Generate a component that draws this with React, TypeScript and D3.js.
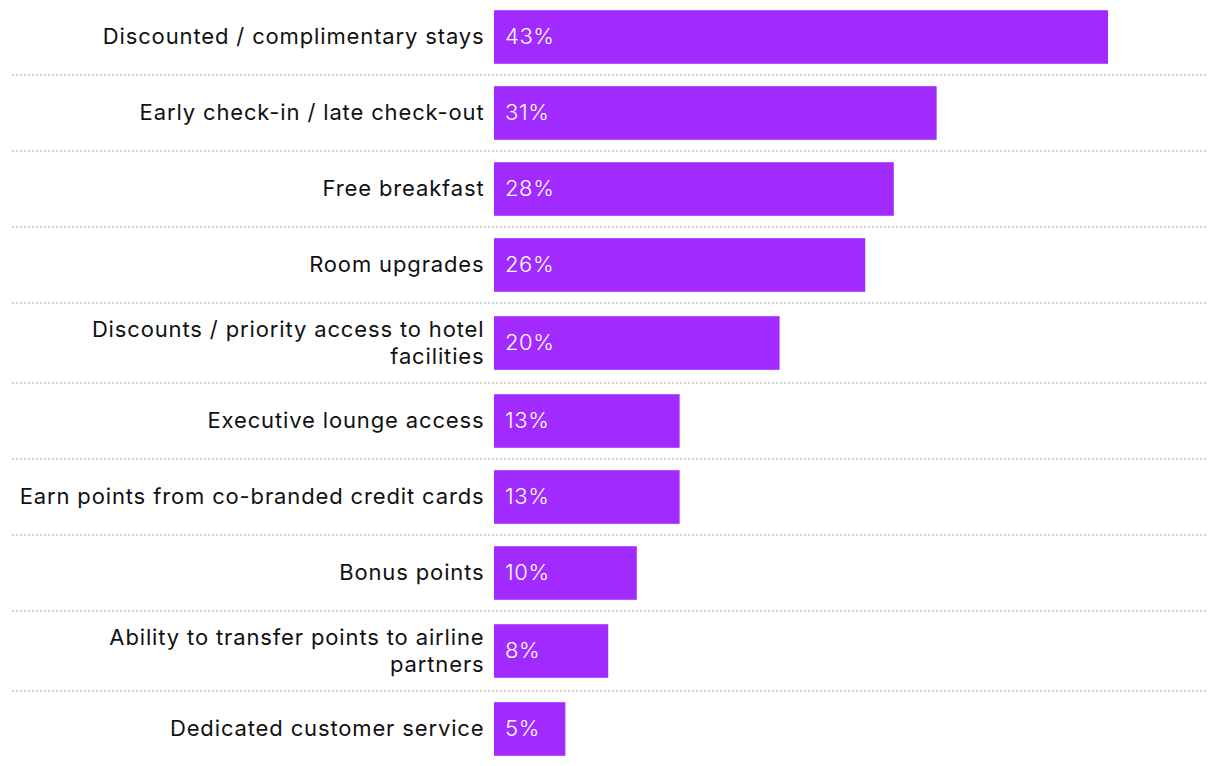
import React from "react";
import * as d3 from "d3";

const categories: string[][] = [
  ["Discounted / complimentary stays"],
  ["Early check-in / late check-out"],
  ["Free breakfast"],
  ["Room upgrades"],
  ["Discounts / priority access to hotel", "facilities"],
  ["Executive lounge access"],
  ["Earn points from co-branded credit cards"],
  ["Bonus points"],
  ["Ability to transfer points to airline", "partners"],
  ["Dedicated customer service"],
];
const values: number[] = [43, 31, 28, 26, 20, 13, 13, 10, 8, 5];
const valueLabels: string[] = ["43%", "31%", "28%", "26%", "20%", "13%", "13%", "10%", "8%", "5%"];

const W = 1220;
const H = 766;
const BAR_H = 53.6;
const FONT = "Inter, 'Noto Sans', sans-serif";

export default function App() {
  const x = d3.scaleLinear().domain([0, 43]).range([494, 1108]);
  const rowHeights = categories.map((c) => (c.length > 1 ? 80 : 76));
  const tops: number[] = [];
  let acc = -1;
  rowHeights.forEach((h) => {
    tops.push(acc);
    acc += h;
  });
  const lineH = 27;

  return (
    <svg
      width={W}
      height={H}
      style={{ position: "absolute", left: 0, top: 0 }}
      fontFamily={FONT}
    >
      <rect width={W} height={H} fill="#fff" />
      {categories.map((lines, i) => {
        const top = tops[i];
        const rh = rowHeights[i];
        const cy = top + rh / 2;
        const barY = top + (rh - BAR_H) / 2;
        return (
          <g key={i}>
            {i < categories.length - 1 && (
              <line
                x1={12}
                x2={1208}
                y1={top + rh}
                y2={top + rh}
                stroke="#d4d4d4"
                strokeWidth={2}
                strokeDasharray="2 2"
              />
            )}
            <rect
              x={x(0)}
              y={barY}
              width={x(values[i]) - x(0)}
              height={BAR_H}
              fill="#a12bff"
            />
            <text
              x={x(0) + 11}
              y={cy}
              dy="0.32em"
              fill="#fff"
              fontSize={22}
              fontWeight={300}
              letterSpacing={0.6}
            >
              {valueLabels[i]}
            </text>
            {lines.map((ln, j) => (
              <text
                key={j}
                x={484.5}
                y={cy + (j - (lines.length - 1) / 2) * lineH}
                dy="0.32em"
                textAnchor="end"
                fill="#111"
                fontSize={22}
                letterSpacing={0.86}
              >
                {ln}
              </text>
            ))}
          </g>
        );
      })}
    </svg>
  );
}
